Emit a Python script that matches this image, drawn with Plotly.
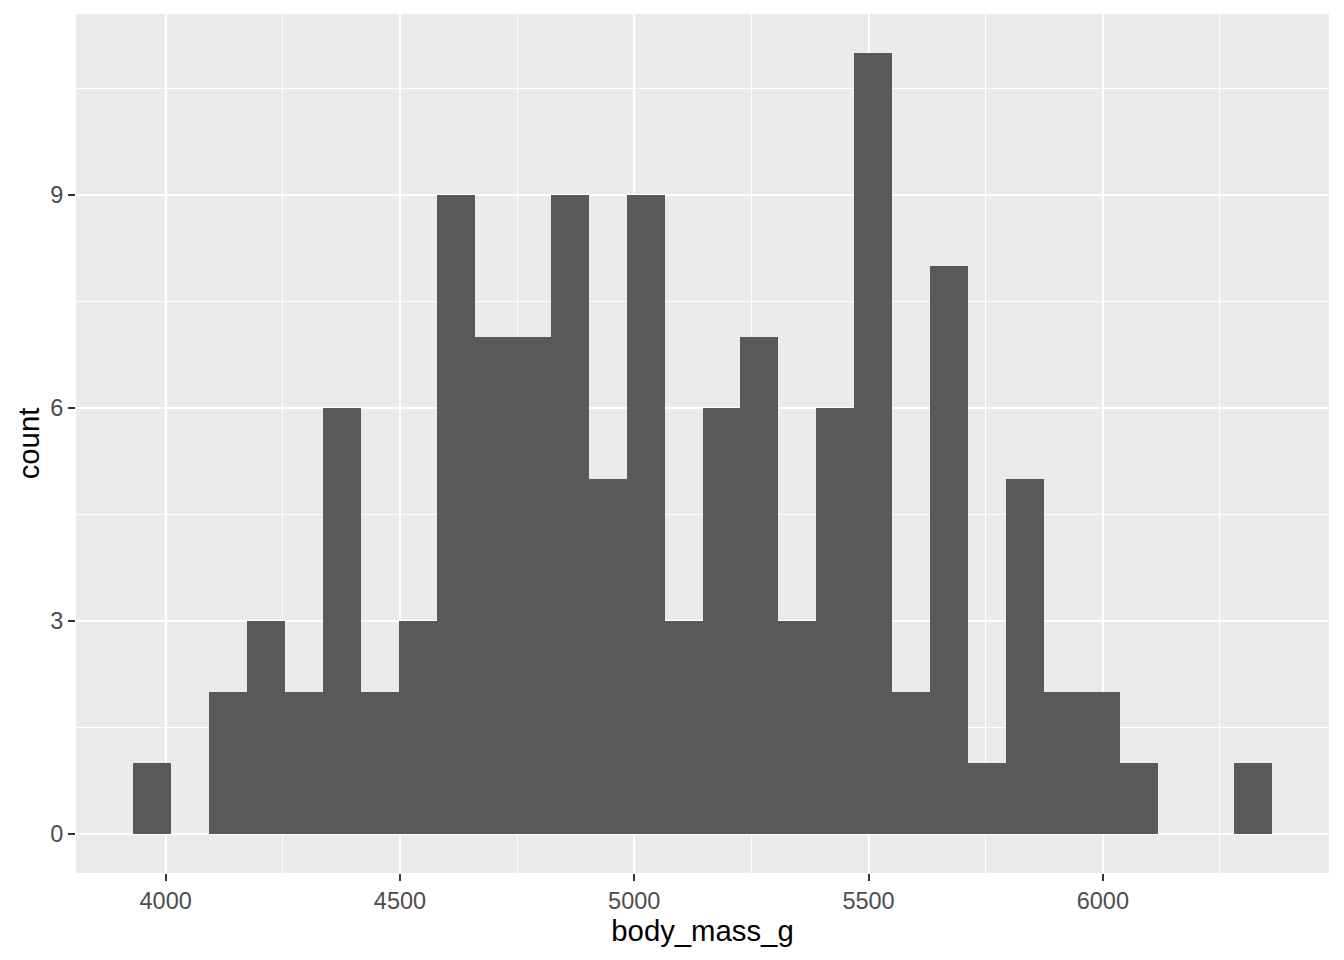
"""Histogram of body mass, ggplot2 look"""

import plotly.graph_objects as go

# 30 bins, counts
counts = [1, 0, 2, 3, 2, 6, 2, 3, 9, 7, 7, 9, 5, 9, 3,
          6, 7, 3, 6, 11, 2, 8, 1, 5, 2, 2, 1, 0, 0, 1]
bin_start = 3930.15
bin_width = 2350 / 29
x_ticks = [4000, 4500, 5000, 5500, 6000]
y_ticks = [0, 3, 6, 9]

centers = [bin_start + bin_width * (i + 0.5) for i in range(len(counts))]
x_lo, x_hi = bin_start, bin_start + bin_width * len(counts)
x_pad = (x_hi - x_lo) * 0.05
y_pad = max(counts) * 0.05

fig = go.Figure(go.Bar(
    x=centers, y=counts, width=bin_width,
    marker=dict(color='#595959', line=dict(width=0)),
    hoverinfo='x+y'
))

axis_common = dict(
    showgrid=True, gridcolor='white', gridwidth=2,
    zeroline=False, showline=False, automargin=False,
    ticks='outside', ticklen=7, tickwidth=2, tickcolor='#333333',
    tickfont=dict(family='Liberation Sans, Arial', size=23.5, color='#4D4D4D'),
    title_font=dict(family='Liberation Sans, Arial', size=29.3, color='black'),
)

fig.update_xaxes(
    **axis_common,
    range=[x_lo - x_pad, x_hi + x_pad],
    tickvals=x_ticks,
    minor=dict(tickmode='array', tickvals=[4250, 4750, 5250, 5750, 6250],
               showgrid=True, gridcolor='white', gridwidth=1, ticks=''),
    title_text='body_mass_g', title_standoff=6,
)
fig.update_yaxes(
    **axis_common,
    range=[-y_pad, max(counts) + y_pad],
    tickvals=y_ticks,
    minor=dict(tickmode='array', tickvals=[1.5, 4.5, 7.5, 10.5],
               showgrid=True, gridcolor='white', gridwidth=1, ticks=''),
    title_text='count', title_standoff=1,
)

# the page body adds an 8px offset, margins account for it
fig.update_layout(
    width=1344, height=960,
    margin=dict(l=68, r=23, t=6, b=95),
    plot_bgcolor='#EBEBEB', paper_bgcolor='white',
    bargap=0, showlegend=False,
    font=dict(family='Liberation Sans, Arial'),
)

fig.write_html("out.html")
